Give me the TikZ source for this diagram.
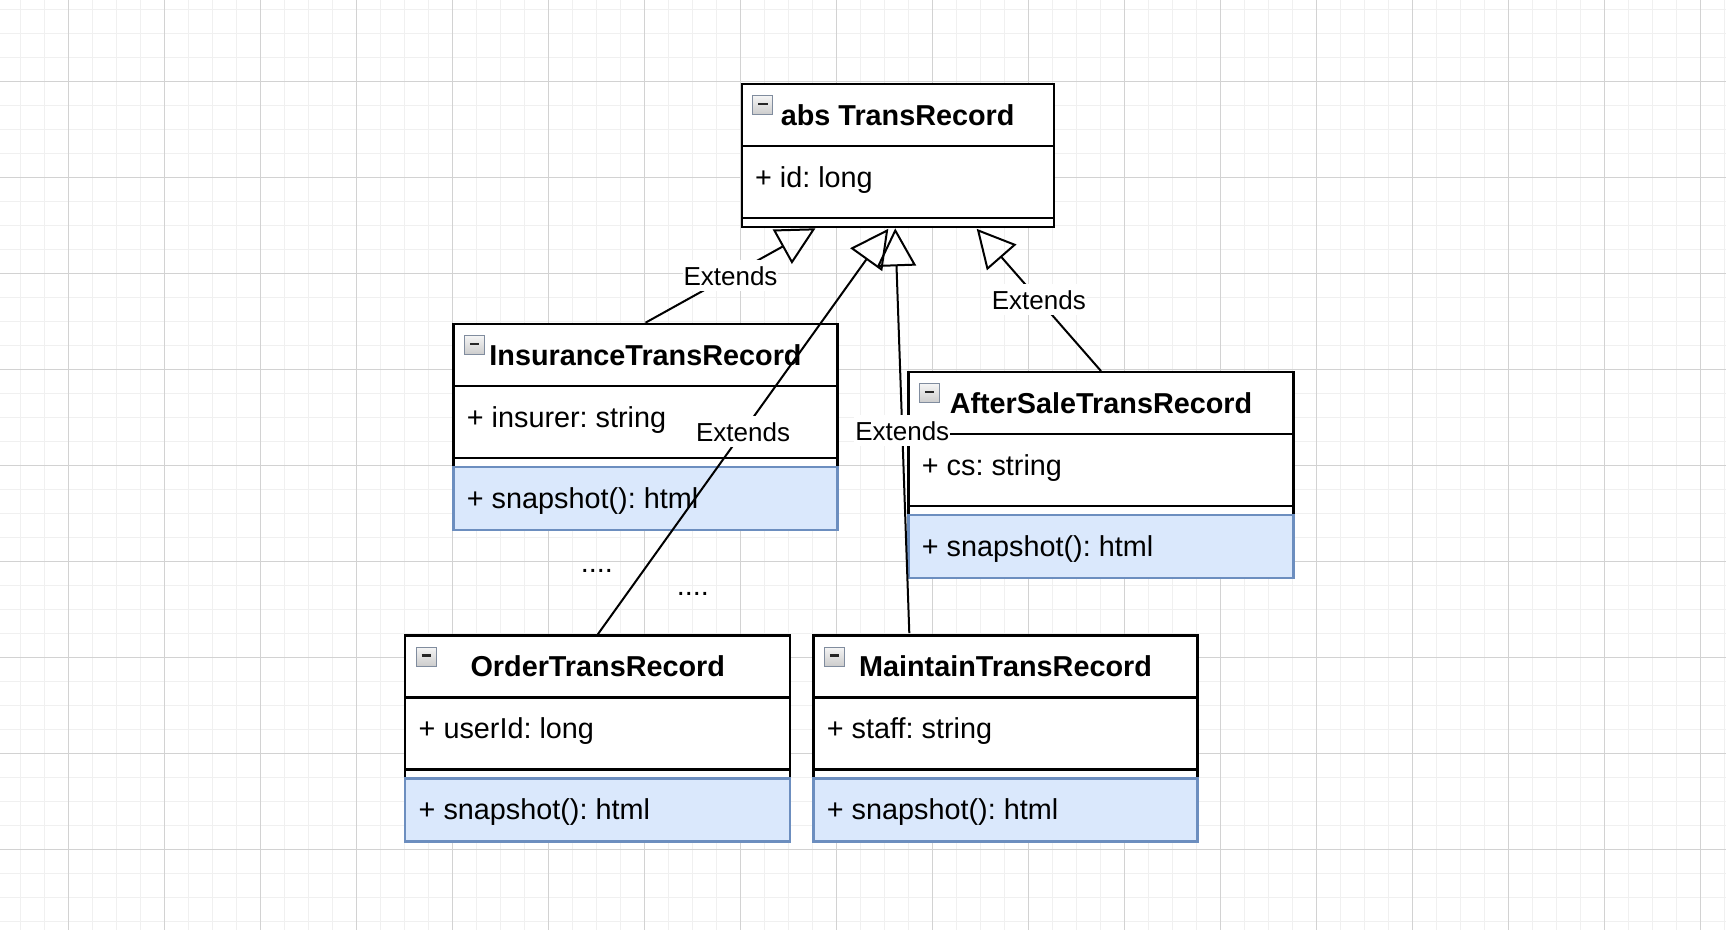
\documentclass[tikz,border=0pt]{standalone}
\usepackage{fontspec}
\setmainfont{Liberation Sans}
\usetikzlibrary{arrows.meta}
\frenchspacing
\definecolor{gridminor}{RGB}{240,240,240}
\definecolor{gridmajor}{RGB}{210,210,210}
\definecolor{methfill}{HTML}{DAE8FC}
\definecolor{methdraw}{HTML}{6C8EBF}
\definecolor{iconborder}{RGB}{128,140,158}
\tikzset{
  sect/.style={draw=black, fill=white, line width=2.2pt, inner sep=0pt, anchor=north west},
  methsect/.style={draw=methdraw, fill=methfill, line width=2.2pt, inner sep=0pt, anchor=north west},
  titletext/.style={font=\fontsize{28.8}{34}\selectfont\bfseries, text height=21pt, text depth=0pt},
  membertext/.style={font=\fontsize{28.8}{34}\selectfont, anchor=base west, inner sep=0pt},
  iconbox/.style={draw=iconborder, line width=1pt, top color=gray!8, bottom color=gray!40,
    minimum width=20pt, minimum height=19pt, inner sep=0pt, anchor=north west,
    path picture={\draw[line width=2.6pt, black!85] ([xshift=5.5pt,yshift=-8.3pt]path picture bounding box.north west) -- ++(9.5,0);}},
  gen/.style={line width=2pt, line join=miter, -{Triangle[open, length=38pt, width=39pt]}},
  extlabel/.style={font=\fontsize{26}{30}\selectfont, fill=white, inner xsep=1pt, inner ysep=6pt, text height=19pt, text depth=0pt, pos=0.5},
  minorgrid/.style={draw=gridminor, line width=1.5pt},
  majorgrid/.style={draw=gridmajor, line width=1pt},
}
% name, left, top, width, title, attribute
\newcommand{\umlclassbox}[6]{%
  \node[sect, titletext, minimum width=#4pt, minimum height=62pt] (#1) at ({#2},{#3}) {#5};
  \node[sect, minimum width=#4pt, minimum height=72pt] (#1-attrs) at ({#2},{#3+62}) {};
  \node[sect, minimum width=#4pt, minimum height=9pt] (#1-div) at ({#2},{#3+134}) {};
  \node[iconbox] (#1-icon) at ({#2+11.5},{#3+12.3}) {};
  \node[membertext] (#1-attr) at ({#2+14.3},{#3+104.5}) {#6};
}
% name, left, top, width, method
\newcommand{\umlmethodbox}[5]{%
  \node[methsect, minimum width=#4pt, minimum height=63pt] (#1-meth) at ({#2},{#3+143}) {};
  \node[membertext] (#1-methtext) at ({#2+14.3},{#3+185.3}) {#5};
}
\begin{document}
\begin{tikzpicture}[x=1pt, y=-1pt]
  \fill[white] (0,0) rectangle (1726,930);
  \path[use as bounding box] (0,0) rectangle (1726,930);
  % grid
  \foreach \k in {0,...,71} {\draw[minorgrid] ({20.3+24*\k},0) -- ({20.3+24*\k},930);}
  \foreach \k in {0,...,38} {\draw[minorgrid] (0,{9.3+24*\k}) -- (1726,{9.3+24*\k});}
  \foreach \k in {0,...,17} {\draw[majorgrid] ({68.3+96*\k},0) -- ({68.3+96*\k},930);}
  \foreach \k in {0,...,8} {\draw[majorgrid] (0,{81.3+96*\k}) -- (1726,{81.3+96*\k});}
  % classes
  \umlclassbox{abs}{740.6}{82.7}{312}{abs TransRecord}{+ id: long}
  \umlclassbox{ins}{452.4}{322.7}{384}{InsuranceTransRecord}{+ insurer: string}
  \umlmethodbox{ins}{452.4}{322.7}{384}{+ snapshot(): html}
  \umlclassbox{aft}{907.4}{371}{385}{AfterSaleTransRecord}{+ cs: string}
  \umlmethodbox{aft}{907.4}{371}{385}{+ snapshot(): html}
  \umlclassbox{ord}{404.2}{634.3}{385}{OrderTransRecord}{+ userId: long}
  \umlmethodbox{ord}{404.2}{634.3}{385}{+ snapshot(): html}
  \umlclassbox{mnt}{812.4}{634.3}{384}{MaintainTransRecord}{+ staff: string}
  \umlmethodbox{mnt}{812.4}{634.3}{384}{+ snapshot(): html}
  % ellipses
  \node[membertext] (dots1) at (580.7,572) {....};
  \node[membertext] (dots2) at (676.7,595) {....};
  % connector end points
  \coordinate (tipIns) at (815.5,228.3);
  \coordinate (tipOrd) at (888.3,228.8);
  \coordinate (tipMnt) at (895.2,228.3);
  \coordinate (tipAft) at (976.7,228.8);
  \coordinate (mntSrc) at (909.3,633.2);
  % generalisations
  \draw[gen] (ins.north) -- node[extlabel] (lblIns) {Extends} (tipIns);
  \draw[gen] (ord.north) -- node[extlabel] (lblOrd) {Extends} (tipOrd);
  \draw[gen] (mntSrc) -- node[extlabel] (lblMnt) {Extends} (tipMnt);
  \draw[gen] (aft.north) -- node[extlabel] (lblAft) {Extends} (tipAft);
\end{tikzpicture}
\end{document}
